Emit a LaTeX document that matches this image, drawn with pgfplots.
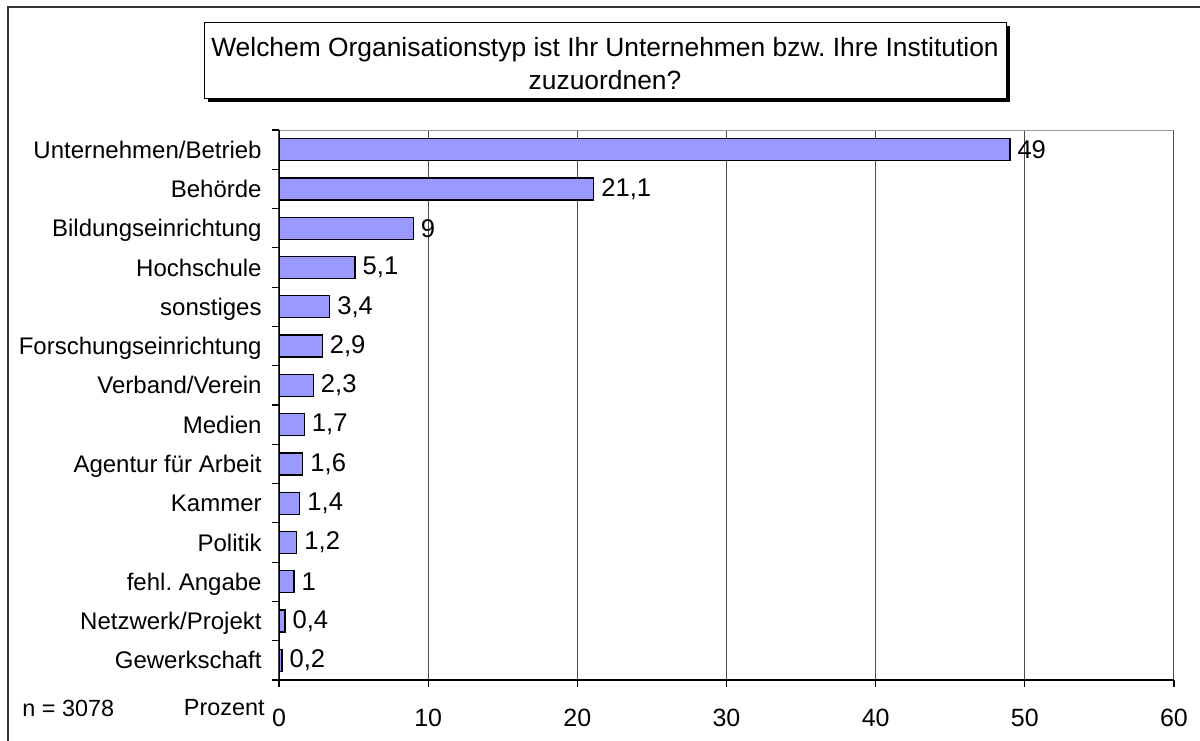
\documentclass[border=0pt]{standalone}
\usepackage{fontspec}
\setmainfont{Liberation Sans}
\usepackage{pgfplots}
\pgfplotsset{compat=1.18}
\definecolor{barfill}{HTML}{9999FF}
\frenchspacing

\begin{document}
\begin{tikzpicture}
% frame, title box and side notes (1 unit = 1 px of the reference)
\begin{scope}[x=0.5pt,y=-0.5pt]
\path[use as bounding box] (0,0) rectangle (1200,740);
\draw[black!80, line width=1pt] (8,745) -- (8,7) -- (1205,7);
\fill[black] (208,26) rectangle (1010,102);
\draw[black, fill=white, line width=0.5pt] (204,22) rectangle (1006,98);
\node[anchor=base, inner sep=0pt, font=\fontsize{13.2}{15}\selectfont] at (605,56)
  {Welchem Organisationstyp ist Ihr Unternehmen bzw. Ihre Institution};
\node[anchor=base, inner sep=0pt, font=\fontsize{13.2}{15}\selectfont] at (605,89)
  {zuzuordnen?};
\node[anchor=base west, inner sep=0pt, font=\fontsize{11.7}{14}\selectfont] at (22,716) {n = 3078};
\node[anchor=base east, inner sep=0pt, font=\fontsize{11.7}{14}\selectfont] at (265,715) {Prozent};
\end{scope}

\begin{axis}[
  at={(139.5pt,-340pt)}, anchor=south west,
  scale only axis, width=447.5pt, height=275pt,
  xmin=0, xmax=60, ymin=-0.5, ymax=13.5,
  axis line style={draw=none},
  /pgf/number format/assume math mode=true,
  xtick={0,10,...,60},
  ytick={-0.5,0.5,...,13.5},
  yticklabels={},
  extra y ticks={0,...,13},
  extra y tick labels={Gewerkschaft,Netzwerk/Projekt,fehl. Angabe,Politik,Kammer,Agentur für Arbeit,Medien,Verband/Verein,Forschungseinrichtung,sonstiges,Hochschule,Bildungseinrichtung,Behörde,Unternehmen/Betrieb},
  extra y tick style={major tick length=0pt, grid=none},
  xtick pos=bottom, ytick pos=left,
  tick align=outside,
  major tick length=3.5pt,
  tick style={black, line width=0.6pt},
  xmajorgrids=true,
  grid style={black!70, line width=0.5pt},
  xticklabel style={font=\fontsize{12.5}{14}\selectfont, inner sep=0pt, anchor=base, yshift=-19.5pt},
  yticklabel style={font=\fontsize{12}{14}\selectfont, inner sep=0pt, anchor=base east, xshift=-8.5pt, yshift=-4.3pt},
]
\addplot[xbar, bar width=11pt, bar shift=0pt, fill=barfill, draw=black, line width=0.6pt,
  point meta=x,
  nodes near coords={\pgfmathprintnumber[use comma]{\pgfplotspointmeta}},
  every node near coord/.append style={font=\fontsize{12.8}{15}\selectfont, anchor=west, inner sep=0pt, xshift=3.5pt, black}]
coordinates {
  (49,13) (21.1,12) (9,11) (5.1,10) (3.4,9) (2.9,8) (2.3,7)
  (1.7,6) (1.6,5) (1.4,4) (1.2,3) (1,2) (0.4,1) (0.2,0)
};
\draw[black!40, line width=0.5pt] (axis cs:0,13.5) -- (axis cs:60,13.5);
\draw[black, line width=0.6pt] (axis cs:0,13.5) -- (axis cs:0,-0.5) -- (axis cs:60,-0.5);
\end{axis}
\end{tikzpicture}
\end{document}
